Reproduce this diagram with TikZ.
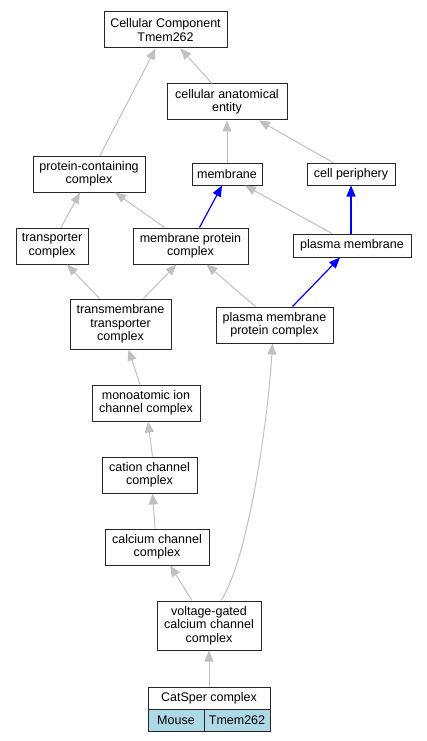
\documentclass[tikz,border=0pt]{standalone}
\usepackage{fontspec}
\setmainfont{Liberation Sans}
\usetikzlibrary{arrows.meta}
\definecolor{edgegray}{HTML}{C0C0C0}
\definecolor{cellblue}{HTML}{ADD8E6}
\tikzset{
  box/.style={draw=black!85, line width=1pt, fill=white, inner sep=0pt, align=center,
    font=\fontsize{12.5}{13.5}\selectfont},
  isa/.style={draw=edgegray, line width=1pt, -{Triangle[length=11pt,width=9pt]}},
  partof/.style={draw=blue, line width=1.2pt, -{Triangle[length=11pt,width=9pt]}},
  cellbox/.style={draw=black!85, line width=1pt, fill=cellblue, inner sep=0pt,
    font=\fontsize{12.5}{13.5}\selectfont}
}
\begin{document}
\begin{tikzpicture}[x=1pt,y=-1pt]
\useasboundingbox[fill=white] (0,0) rectangle (427,741);
\node[box, minimum width=123pt, minimum height=36pt] (cc) at (165.5,30) {Cellular Component\\Tmem262};
\node[box, minimum width=120pt, minimum height=36pt] (cae) at (227,102) {cellular anatomical\\entity};
\node[box, minimum width=112pt, minimum height=36pt] (pcc) at (89,174) {protein-containing\\complex};
\node[box, minimum width=70pt, minimum height=22pt] (mem) at (227,174) {membrane};
\node[box, minimum width=88pt, minimum height=22pt] (cp) at (351,174) {cell periphery};
\node[box, minimum width=72pt, minimum height=36pt] (tc) at (52,246) {transporter\\complex};
\node[box, minimum width=115pt, minimum height=36pt] (mpc) at (190.5,246) {membrane protein\\complex};
\node[box, minimum width=118pt, minimum height=23pt] (pm) at (352,245.5) {plasma membrane};
\node[box, minimum width=101pt, minimum height=50pt] (ttc) at (120.5,324) {transmembrane\\transporter\\complex};
\node[box, minimum width=117pt, minimum height=36pt] (pmpc) at (274.5,325) {plasma membrane\\protein complex};
\node[box, minimum width=108pt, minimum height=36pt] (mic) at (146,403) {monoatomic ion\\channel complex};
\node[box, minimum width=95pt, minimum height=36pt] (ccx) at (149.5,475) {cation channel\\complex};
\node[box, minimum width=104pt, minimum height=36pt] (cac) at (157,547) {calcium channel\\complex};
\node[box, minimum width=104pt, minimum height=49pt] (vgc) at (209,625.5) {voltage-gated\\calcium channel\\complex};
\node[box, minimum width=122pt, minimum height=22pt] (cs) at (209,698) {CatSper complex};
\node[cellbox, minimum width=56pt, minimum height=22pt] (mouse) at (176,720) {Mouse};
\node[cellbox, minimum width=66pt, minimum height=22pt] (tm) at (237,720) {Tmem262};

\draw[isa] ([xshift=11pt]pcc.north) -- ([xshift=-10pt]cc.south);
\draw[isa] ([xshift=-15pt]cae.north) -- ([xshift=15pt]cc.south);
\draw[isa] (mem.north) -- (cae.south);
\draw[isa] ([xshift=-18pt]cp.north) -- ([xshift=32pt]cae.south);
\draw[isa] ([xshift=9pt]tc.north) -- ([xshift=-9pt]pcc.south);
\draw[isa] ([xshift=-26pt]mpc.north) -- ([xshift=26pt]pcc.south);
\draw[partof] ([xshift=9pt]mpc.north) -- ([xshift=-5pt]mem.south);
\draw[isa] ([xshift=-20pt]pm.north) -- ([xshift=18pt]mem.south);
\draw[partof] ([xshift=-1pt]pm.north) -- ([xshift=0pt]cp.south);
\draw[isa] ([xshift=-21pt]ttc.north) -- ([xshift=15pt]tc.south);
\draw[isa] ([xshift=23pt]ttc.north) -- ([xshift=-14pt]mpc.south);
\draw[isa] ([xshift=-19pt]pmpc.north) -- ([xshift=16pt]mpc.south);
\draw[partof] ([xshift=18pt]pmpc.north) -- ([xshift=-12pt]pm.south);
\draw[isa] ([xshift=-6pt]mic.north) -- ([xshift=8pt]ttc.south);
\draw[isa] ([xshift=3pt]ccx.north) -- ([xshift=2pt]mic.south);
\draw[isa] ([xshift=-2pt]cac.north) -- ([xshift=3pt]ccx.south);
\draw[isa] ([xshift=-17pt]vgc.north) -- ([xshift=13pt]cac.south);
\draw[isa] ([xshift=12pt]vgc.north) .. controls (248,560) and (268,420) .. ([xshift=-2pt]pmpc.south);
\draw[isa] (cs.north) -- (vgc.south);
\end{tikzpicture}
\end{document}
